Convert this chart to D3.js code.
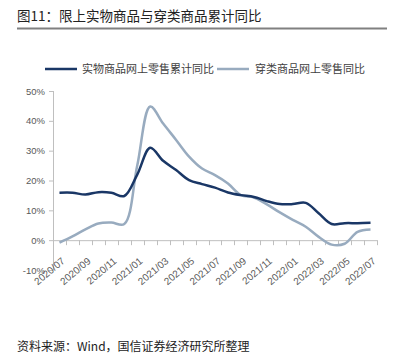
<!DOCTYPE html>
<html>
<head>
<meta charset="utf-8">
<script src="https://cdn.jsdelivr.net/npm/d3@7"></script>
<style>
  body { margin: 0; background: #fff; }
  svg { display: block; }
</style>
</head>
<body>
<script>
// months on the x axis
var months = ["2020/07","2020/08","2020/09","2020/10","2020/11","2020/12",
              "2021/01","2021/02","2021/03","2021/04","2021/05","2021/06",
              "2021/07","2021/08","2021/09","2021/10","2021/11","2021/12",
              "2022/01","2022/02","2022/03","2022/04","2022/05","2022/06","2022/07"];

// 实物商品网上零售累计同比 (%)
var physical = [15.9, 15.9, 15.3, 16.1, 15.9, 14.8,
                22.0, 31.0, 26.6, 23.5, 20.1, 18.8,
                17.6, 16.0, 15.1, 14.5, 13.1, 12.1,
                12.1, 12.5, 9.0, 5.4, 5.7, 5.7, 5.8];

// 穿类商品网上零售同比 (%)
var clothing = [-0.8, 1.3, 3.6, 5.6, 5.9, 5.4,
                25.0, 44.8, 39.1, 33.6, 28.0, 24.0,
                21.8, 19.0, 15.1, 14.3, 12.0, 9.3,
                6.8, 4.5, 1.1, -1.5, -1.2, 2.8, 3.6];

var yTicks = [-10, 0, 10, 20, 30, 40, 50];
var seriesNames = ["实物商品网上零售累计同比", "穿类商品网上零售同比"];
var seriesColors = ["#1a3766", "#98abbf"];

function init()
{
    var w = 401;
    var h = 353;

    var svg = d3.select("body")
                .append("svg")
                .attr("width", w)
                .attr("height", h);

    // title + rule
    svg.append("text")
       .attr("x", 17)
       .attr("y", 21)
       .attr("font-family", "Noto Sans CJK SC")
       .attr("font-size", 13.5)
       .attr("fill", "#222")
       .text("图11：限上实物商品与穿类商品累计同比");

    svg.append("line")
       .attr("x1", 17).attr("x2", 387)
       .attr("y1", 28.5).attr("y2", 28.5)
       .attr("stroke", "#808080")
       .attr("stroke-width", 2);

    var x = d3.scaleBand()
              .domain(months)
              .range([53, 377])
              .padding(0);

    var y = d3.scaleLinear()
              .domain([-10, 50])
              .range([270, 91]);

    // y axis
    var yAxis = svg.append("g")
                   .attr("transform", "translate(53,0)")
                   .call(d3.axisLeft(y)
                           .tickValues(yTicks)
                           .tickSize(4)
                           .tickFormat(function(d) { return d + "%"; }));
    yAxis.selectAll("path, line").attr("stroke", "#bfbfbf");
    yAxis.select(".domain").attr("d", "M0.5," + y(50) + "V" + y(-10));
    yAxis.selectAll("text")
         .attr("x", -8)
         .attr("font-family", "Liberation Sans")
         .attr("font-size", 9.5)
         .attr("fill", "#595959");

    // x axis at 0%
    var xg = svg.append("g")
                .attr("transform", "translate(0," + y(0) + ")");
    xg.append("line")
      .attr("x1", 53).attr("x2", 377)
      .attr("y1", 0.5).attr("y2", 0.5)
      .attr("stroke", "#bfbfbf");
    var bounds = months.map(function(m) { return x(m); }).concat([x.range()[1]]);
    xg.selectAll(".tk")
      .data(bounds)
      .enter()
      .append("line")
      .attr("x1", function(d) { return Math.round(d) + 0.5; })
      .attr("x2", function(d) { return Math.round(d) + 0.5; })
      .attr("y1", 0).attr("y2", 5)
      .attr("stroke", "#bfbfbf");

    xg.selectAll(".lbl")
      .data(months.filter(function(d, i) { return i % 2 == 0; }))
      .enter()
      .append("text")
      .attr("text-anchor", "end")
      .attr("font-family", "Liberation Sans")
      .attr("font-size", 10)
      .attr("fill", "#595959")
      .attr("transform", function(d) {
          return "translate(" + (x(d) + x.bandwidth() / 2 + 6) + ",22) rotate(-40)";
      })
      .text(function(d) { return d; });

    // lines
    var line = d3.line()
                 .x(function(d, i) { return x(months[i]) + x.bandwidth() / 2; })
                 .y(function(d) { return y(d); })
                 .curve(d3.curveCatmullRom.alpha(0.5));

    [clothing, physical].forEach(function(s, k) {
        svg.append("path")
           .datum(s)
           .attr("d", line)
           .attr("fill", "none")
           .attr("stroke", seriesColors[1 - k])
           .attr("stroke-width", 2.5)
           .attr("stroke-linejoin", "round");
    });

    // legend
    var legX = [45, 217];
    var legend = svg.selectAll(".leg")
                    .data(seriesNames)
                    .enter()
                    .append("g")
                    .attr("transform", function(d, i) { return "translate(" + legX[i] + ",69)"; });
    legend.append("line")
          .attr("x1", 0).attr("x2", 32)
          .attr("y1", 0).attr("y2", 0)
          .attr("stroke", function(d, i) { return seriesColors[i]; })
          .attr("stroke-width", 2.5);
    legend.append("text")
          .attr("x", function(d, i) { return i == 0 ? 37 : 38; })
          .attr("y", 4)
          .attr("font-family", "Noto Sans CJK SC")
          .attr("font-size", 11)
          .attr("fill", "#404040")
          .text(function(d) { return d; });

    // source
    svg.append("text")
       .attr("x", 17)
       .attr("y", 351)
       .attr("font-family", "Noto Sans CJK SC")
       .attr("font-size", 12)
       .attr("fill", "#222")
       .text("资料来源：Wind，国信证券经济研究所整理");
}
window.onload = init;
</script>
</body>
</html>
